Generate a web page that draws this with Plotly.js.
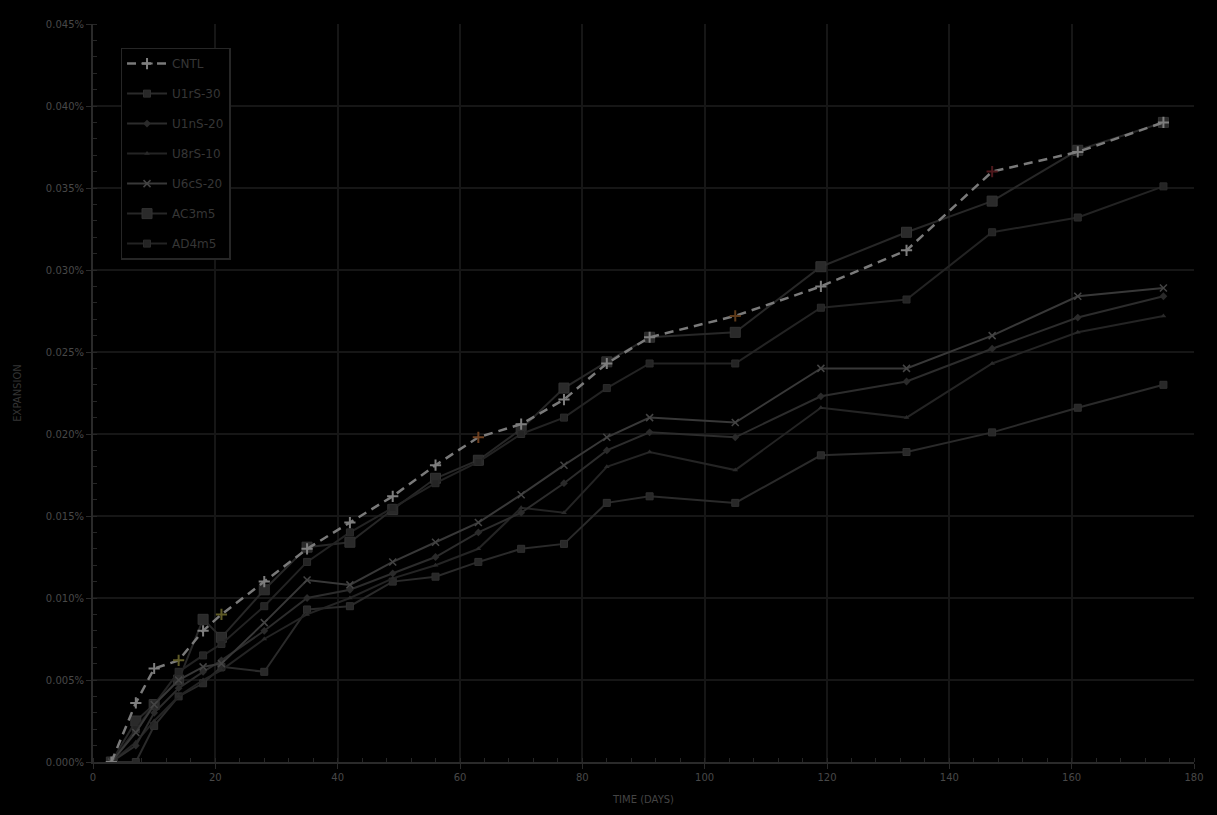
<!DOCTYPE html>
<html>
<head>
<meta charset="utf-8">
<script src="https://cdn.plot.ly/plotly-3.0.1.min.js"></script>
<style>
html,body{margin:0;padding:0;background:#000;}
#chart{width:1217px;height:815px;}
</style>
</head>
<body>
<div id="chart"></div>
<script>
// Test age (days)
const days = [3, 7, 10, 14, 18, 21, 28, 35, 42, 49, 56, 63, 70, 77, 84, 91, 105, 119, 133, 147, 161, 175];

// Expansion (%)
const cntl    = [0.0000, 0.0036, 0.0057, 0.0062, 0.0080, 0.0090, 0.0110, 0.0130, 0.0146, 0.0162, 0.0181, 0.0198, 0.0206, 0.0221, 0.0243, 0.0259, 0.0272, 0.0290, 0.0312, 0.0360, 0.0372, 0.0390];
const u1rs30  = [0.0000, 0.0000, 0.0022, 0.0040, 0.0048, 0.0058, 0.0055, 0.0093, 0.0095, 0.0110, 0.0113, 0.0122, 0.0130, 0.0133, 0.0158, 0.0162, 0.0158, 0.0187, 0.0189, 0.0201, 0.0216, 0.0230];
const u1ns20  = [0.0000, 0.0010, 0.0030, 0.0045, 0.0055, 0.0062, 0.0080, 0.0100, 0.0105, 0.0115, 0.0125, 0.0140, 0.0152, 0.0170, 0.0190, 0.0201, 0.0198, 0.0223, 0.0232, 0.0252, 0.0271, 0.0284];
const u8rs10  = [0.0000, 0.0012, 0.0025, 0.0040, 0.0050, 0.0056, 0.0075, 0.0090, 0.0100, 0.0112, 0.0120, 0.0130, 0.0155, 0.0152, 0.0180, 0.0189, 0.0178, 0.0216, 0.0210, 0.0243, 0.0262, 0.0272];
const u6cs20  = [0.0000, 0.0018, 0.0035, 0.0050, 0.0058, 0.0060, 0.0085, 0.0111, 0.0108, 0.0122, 0.0134, 0.0146, 0.0163, 0.0181, 0.0198, 0.0210, 0.0207, 0.0240, 0.0240, 0.0260, 0.0284, 0.0289];
const ac3m5   = [0.0000, 0.0025, 0.0035, 0.0050, 0.0087, 0.0076, 0.0105, 0.0131, 0.0134, 0.0154, 0.0173, 0.0184, 0.0203, 0.0228, 0.0244, 0.0259, 0.0262, 0.0302, 0.0323, 0.0342, 0.0373, 0.0390];
const ad4m5   = [0.0000, 0.0020, 0.0035, 0.0055, 0.0065, 0.0072, 0.0095, 0.0122, 0.0140, 0.0155, 0.0170, 0.0183, 0.0200, 0.0210, 0.0228, 0.0243, 0.0243, 0.0277, 0.0282, 0.0323, 0.0332, 0.0351];

const names = ["CNTL", "U1rS-30", "U1nS-20", "U8rS-10", "U6cS-20", "AC3m5", "AD4m5"];

const cntlMarkerColors = days.map(function(d){
  if (d === 14 || d === 21) return '#5e5a26';
  if (d === 63) return '#6e4020';
  if (d === 105) return '#5e3a1a';
  if (d === 147) return '#4e181c';
  return '#7e7e7e';
});

const traces = [
  {x: days, y: ac3m5, name: names[5], mode: 'lines+markers',
   line: {color: '#272727', width: 2},
   marker: {symbol: 'square', size: 10, color: '#2a2a2a', line: {color: '#333333', width: 1}}},
  {x: days, y: ad4m5, name: names[6], mode: 'lines+markers',
   line: {color: '#232323', width: 2},
   marker: {symbol: 'square', size: 7, color: '#242424', line: {color: '#2c2c2c', width: 1}}},
  {x: days, y: u1rs30, name: names[1], mode: 'lines+markers',
   line: {color: '#2a2a2a', width: 2},
   marker: {symbol: 'square', size: 7, color: '#282828', line: {color: '#303030', width: 1}}},
  {x: days, y: u8rs10, name: names[3], mode: 'lines+markers',
   line: {color: '#242424', width: 2},
   marker: {symbol: 'triangle-up', size: 5, color: '#2a2a2a'}},
  {x: days, y: u1ns20, name: names[2], mode: 'lines+markers',
   line: {color: '#2c2c2c', width: 2},
   marker: {symbol: 'diamond', size: 6, color: '#2a2a2a'}},
  {x: days, y: u6cs20, name: names[4], mode: 'lines+markers',
   line: {color: '#383838', width: 2},
   marker: {symbol: 'x-thin-open', size: 7, color: '#444444', line: {color: '#444444', width: 1.5}}},
  {x: days, y: cntl, name: names[0], mode: 'lines+markers',
   line: {color: '#7a7a7a', width: 2.5, dash: '9px,6px'},
   marker: {symbol: 'cross-thin-open', size: 8, color: cntlMarkerColors, line: {color: cntlMarkerColors, width: 2}}}
];

const legendRank = {"CNTL":1, "U1rS-30":2, "U1nS-20":3, "U8rS-10":4, "U6cS-20":5, "AC3m5":6, "AD4m5":7};
traces.forEach(function(t){ t.legendrank = legendRank[t.name]; t.legendgroup = t.name; });

const tickFont = {family: 'DejaVu Sans, sans-serif', size: 10, color: '#484848'};

const layout = {
  width: 1217, height: 815,
  paper_bgcolor: '#000000',
  plot_bgcolor: '#000000',
  margin: {l: 93, r: 23, t: 24, b: 53},
  showlegend: true,
  legend: {
    x: 0.025, y: 0.968, xanchor: 'left', yanchor: 'top',
    bgcolor: '#000000', bordercolor: '#262626', borderwidth: 1.5,
    font: {family: 'DejaVu Sans, sans-serif', size: 12, color: '#363636'},
    tracegroupgap: 11, itemwidth: 40
  },
  xaxis: {
    range: [0, 180], dtick: 20, tick0: 0,
    showgrid: true, gridcolor: '#161616', gridwidth: 2,
    zeroline: false,
    showline: true, linecolor: '#2a2a2a', linewidth: 2,
    ticks: 'outside', ticklen: 5, tickcolor: '#2a2a2a',
    minor: {dtick: 4, ticks: 'inside', ticklen: 4, tickcolor: '#262626', showgrid: false},
    tickfont: tickFont,
    title: {text: 'TIME (DAYS)', font: {family: 'DejaVu Sans, sans-serif', size: 10, color: '#444444'}, standoff: 14}
  },
  yaxis: {
    range: [0, 0.045], dtick: 0.005, tick0: 0,
    tickformat: '.3f', ticksuffix: '%',
    showgrid: true, gridcolor: '#161616', gridwidth: 2,
    zeroline: false,
    showline: true, linecolor: '#2a2a2a', linewidth: 2,
    ticks: 'outside', ticklen: 5, tickcolor: '#2a2a2a',
    minor: {dtick: 0.001, ticks: 'inside', ticklen: 4, tickcolor: '#262626', showgrid: false},
    tickfont: tickFont,
    title: {text: 'EXPANSION', font: {family: 'DejaVu Sans, sans-serif', size: 10, color: '#343434'}, standoff: 22}
  }
};

Plotly.newPlot('chart', traces, layout, {displayModeBar: false, staticPlot: true});
</script>
</body>
</html>
